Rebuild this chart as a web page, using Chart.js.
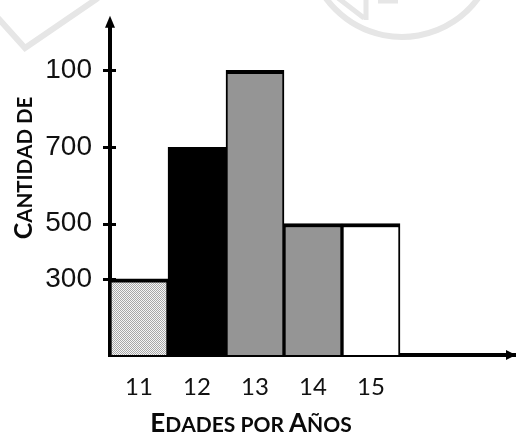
<!DOCTYPE html>
<html>
<head>
<meta charset="utf-8">
<script src="https://cdn.jsdelivr.net/npm/chart.js@4"></script>
<style>
  html, body { margin: 0; padding: 0; background: #fff; }
  canvas { display: block; }
</style>
</head>
<body>
<canvas id="chart" width="516" height="437"></canvas>
<script>
// Ages on the horizontal axis (two empty slots keep room past the last bar)
const ageLabels = ['11', '12', '13', '14', '15', '', ''];
// Number of students per age
const studentCounts = [300, 700, 1000, 500, 500];
// Labelled steps of the vertical axis and the text printed at each one
const yTickValues = [300, 500, 700, 1000];
const yTickLabels = ['300', '500', '700', '100'];

// Light dotted fill for the first bar
function dottedFill() {
  const tile = document.createElement('canvas');
  tile.width = 2; tile.height = 2;
  const t = tile.getContext('2d');
  t.fillStyle = '#f6f6f6'; t.fillRect(0, 0, 2, 2);
  t.fillStyle = '#a8a8a8'; t.fillRect(0, 0, 1, 1); t.fillRect(1, 1, 1, 1);
  return document.getElementById('chart').getContext('2d').createPattern(tile, 'repeat');
}
const barFills = [dottedFill(), '#000000', '#959595', '#959595', '#ffffff'];

// Linear axis whose labelled steps are unevenly spaced: positions between
// the given stops are interpolated piece by piece.
class SteppedScale extends Chart.LinearScale {
  static id = 'stepped';
  static defaults = {};
  _toDecimal(v) {
    const s = this.options.stops;
    if (v <= s[0][0]) return s[0][1];
    for (let i = 1; i < s.length; i++) {
      if (v <= s[i][0]) {
        const [v0, d0] = s[i - 1], [v1, d1] = s[i];
        return d0 + (v - v0) / (v1 - v0) * (d1 - d0);
      }
    }
    return s[s.length - 1][1];
  }
  _fromDecimal(d) {
    const s = this.options.stops;
    for (let i = 1; i < s.length; i++) {
      if (d <= s[i][1]) {
        const [v0, d0] = s[i - 1], [v1, d1] = s[i];
        return v0 + (d - d0) / (d1 - d0) * (v1 - v0);
      }
    }
    return s[s.length - 1][0];
  }
  getPixelForValue(value) {
    return this.getPixelForDecimal(this._toDecimal(value));
  }
  getValueForPixel(pixel) {
    return this._fromDecimal(this.getDecimalForPixel(pixel));
  }
}
Chart.register(SteppedScale);

// Draws text in small capitals: capitals at full size, the rest smaller
function drawSmallCaps(ctx, text, x, y, big, small, family) {
  const parts = [];
  for (const ch of text) {
    const isCap = ch !== ch.toLowerCase();
    parts.push({ ch: ch.toUpperCase(), size: isCap ? big : small });
  }
  let total = 0;
  for (const p of parts) {
    ctx.font = `bold ${p.size}px ${family}`;
    p.w = ctx.measureText(p.ch).width;
    total += p.w;
  }
  let cx = x - total / 2;
  ctx.textAlign = 'left';
  ctx.textBaseline = 'alphabetic';
  for (const p of parts) {
    ctx.font = `bold ${p.size}px ${family}`;
    ctx.fillText(p.ch, cx, y);
    cx += p.w;
  }
}

const decorations = {
  id: 'decorations',
  beforeDraw(chart) {
    // faint background emblem strokes
    const ctx = chart.ctx;
    ctx.save();
    ctx.strokeStyle = '#e6e6e6';
    ctx.lineWidth = 6;
    ctx.beginPath();
    ctx.moveTo(-2, 18); ctx.lineTo(25, 48); ctx.lineTo(98, -2);
    ctx.stroke();
    ctx.beginPath();
    ctx.arc(402, -57, 94, 0.2, Math.PI - 0.2);
    ctx.stroke();
    ctx.lineWidth = 5;
    ctx.beginPath();
    ctx.moveTo(366, -2); ctx.lineTo(366, 20);
    ctx.moveTo(338, -2); ctx.lineTo(364, 18);
    ctx.moveTo(378, 1); ctx.lineTo(398, 1);
    ctx.stroke();
    ctx.restore();
  },
  afterDraw(chart) {
    const ctx = chart.ctx;
    const area = chart.chartArea;
    const y = chart.scales.y;
    ctx.save();
    ctx.fillStyle = '#000';
    ctx.strokeStyle = '#000';
    // tick marks crossing the vertical axis
    ctx.lineWidth = 3;
    for (const v of yTickValues) {
      const py = Math.round(y.getPixelForValue(v)) + 0.5;
      ctx.beginPath();
      ctx.moveTo(area.left - 7, py);
      ctx.lineTo(area.left + 6, py);
      ctx.stroke();
    }
    // arrow heads
    ctx.beginPath();
    ctx.moveTo(area.left, area.top - 11);
    ctx.lineTo(area.left - 5, area.top + 1);
    ctx.lineTo(area.left + 5, area.top + 1);
    ctx.closePath();
    ctx.fill();
    ctx.beginPath();
    ctx.moveTo(area.right, area.bottom);
    ctx.lineTo(area.right - 10, area.bottom - 5);
    ctx.lineTo(area.right - 10, area.bottom + 5);
    ctx.closePath();
    ctx.fill();
    // axis titles
    ctx.fillStyle = '#0a0a0a';
    drawSmallCaps(ctx, 'Edades por Años', 251, 432, 26, 21, 'Lato');
    ctx.translate(32, 168);
    ctx.rotate(-Math.PI / 2);
    drawSmallCaps(ctx, 'Cantidad de', 0, 0, 25, 20.5, 'Lato');
    ctx.restore();
  }
};

new Chart(document.getElementById('chart'), {
  type: 'bar',
  data: {
    labels: ageLabels,
    datasets: [{
      data: studentCounts,
      backgroundColor: barFills,
      borderColor: '#000',
      borderWidth: { top: 4, left: 2, right: 2, bottom: 0 },
      borderSkipped: false,
      barPercentage: 1,
      categoryPercentage: 1
    }]
  },
  options: {
    responsive: false,
    animation: false,
    devicePixelRatio: 1,
    layout: { padding: { top: 23, right: 0, left: 0, bottom: 0 } },
    plugins: { legend: { display: false }, tooltip: { enabled: false } },
    scales: {
      x: {
        type: 'category',
        grid: { display: false },
        border: { display: true, color: '#000', width: 4 },
        ticks: { color: '#111', font: { family: 'Lato', size: 24 }, padding: 10, maxRotation: 0, autoSkip: false },
        afterFit(scale) { scale.height = 82; }
      },
      y: {
        type: 'stepped',
        min: 0,
        max: 1150,
        stops: [[0, 0], [300, 0.2319], [500, 0.4006], [700, 0.6325], [1000, 0.8675], [1150, 1]],
        grid: { display: false },
        border: { display: true, color: '#000', width: 4 },
        afterBuildTicks(scale) { scale.ticks = yTickValues.map(v => ({ value: v })); },
        ticks: {
          color: '#111',
          font: { family: 'Liberation Sans', size: 28 },
          padding: 10,
          callback: (v) => yTickLabels[yTickValues.indexOf(v)]
        },
        afterFit(scale) { scale.width = 110; }
      }
    }
  },
  plugins: [decorations]
});
</script>
</body>
</html>
